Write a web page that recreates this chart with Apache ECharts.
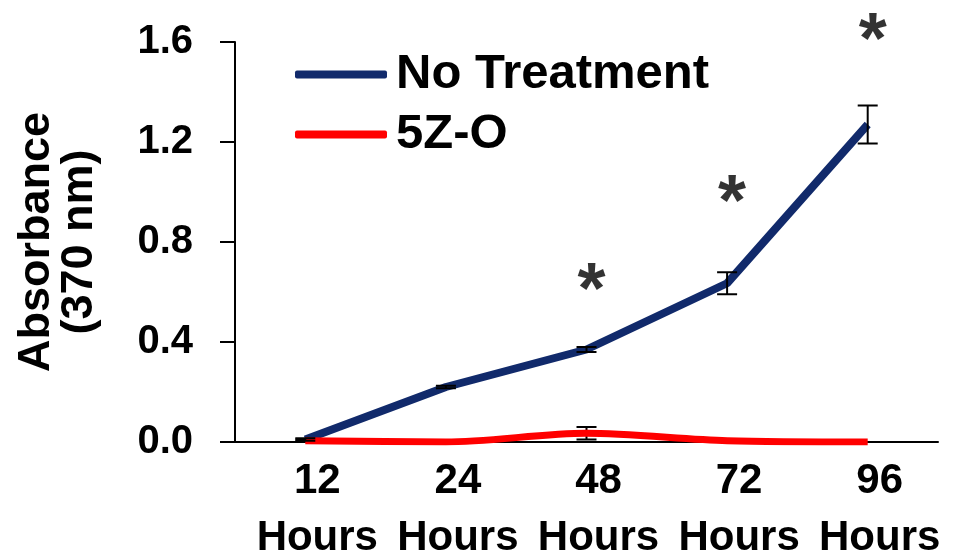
<!DOCTYPE html>
<html>
<head>
<meta charset="utf-8">
<script src="https://cdn.jsdelivr.net/npm/echarts@6/dist/echarts.min.js"></script>
<style>
html,body{margin:0;padding:0;background:#fff;}
#chart{width:969px;height:558px;}
</style>
</head>
<body>
<div id="chart"></div>
<script>
var categories = ['12\nHours', '24\nHours', '48\nHours', '72\nHours', '96\nHours'];
var noTreatment = [0.01, 0.22, 0.37, 0.635, 1.27];
var noTreatmentErr = [0.005, 0.005, 0.01, 0.044, 0.076];
var fiveZO = [0.005, 0.0, 0.035, 0.005, 0.0];
var fiveZOErr = [0.005, 0.0, 0.025, 0.0, 0.0];
var starLevels = [null, null, 0.66, 1.01, 1.66];
var yTicks = [0, 0.4, 0.8, 1.2, 1.6];

var FONT = '"Liberation Sans", Arial, sans-serif';
var chart = echarts.init(document.getElementById('chart'));

function errData(vals, errs) {
  return vals.map(function (v, i) { return [i, v - errs[i], v + errs[i], errs[i]]; });
}
function errRender(params, api) {
  var e = api.value(3);
  if (!e) return null;
  var lo = api.coord([api.value(0), api.value(1)]);
  var hi = api.coord([api.value(0), api.value(2)]);
  var hw = 10;
  var st = { stroke: '#000', lineWidth: 2 };
  return {
    type: 'group',
    children: [
      { type: 'line', shape: { x1: hi[0], y1: hi[1], x2: lo[0], y2: lo[1] }, style: st },
      { type: 'line', shape: { x1: hi[0] - hw, y1: hi[1], x2: hi[0] + hw, y2: hi[1] }, style: st },
      { type: 'line', shape: { x1: lo[0] - hw, y1: lo[1], x2: lo[0] + hw, y2: lo[1] }, style: st }
    ]
  };
}

chart.setOption({
  animation: false,
  backgroundColor: '#fff',
  grid: { left: 235, right: 31, top: 42, bottom: 116, containLabel: false, outerBoundsMode: 'none' },
  legend: {
    orient: 'vertical',
    left: 290,
    top: 45,
    itemWidth: 92,
    itemHeight: 8,
    itemGap: 11,
    icon: 'roundRect',
    textStyle: { fontFamily: FONT, fontWeight: 'bold', fontSize: 49, color: '#000', padding: [0, 0, 0, 4] },
    data: ['No Treatment', '5Z-O']
  },
  xAxis: {
    type: 'category',
    data: categories,
    boundaryGap: true,
    axisLine: { lineStyle: { color: '#000', width: 2 } },
    axisTick: { inside: true, length: 5, lineStyle: { color: '#000', width: 2 } },
    axisLabel: {
      interval: 0,
      fontFamily: FONT, fontWeight: 'bold', fontSize: 42, color: '#000',
      lineHeight: 57, margin: 11, padding: [0, 0, 0, 24]
    }
  },
  yAxis: {
    type: 'value',
    min: 0, max: 1.6, interval: 0.4,
    name: 'Absorbance\n(370 nm)',
    nameLocation: 'middle',
    nameGap: 134,
    nameRotate: 90,
    nameTextStyle: { fontFamily: FONT, fontWeight: 'bold', fontSize: 45, color: '#000', lineHeight: 43 },
    splitLine: { show: false },
    axisLine: { show: true, lineStyle: { color: '#000', width: 2 } },
    axisTick: { show: true, length: 15, lineStyle: { color: '#000', width: 2 } },
    axisLabel: {
      fontFamily: FONT, fontWeight: 'bold', fontSize: 40, color: '#000', margin: 42,
      formatter: function (v) { return v.toFixed(1); }
    }
  },
  series: [
    {
      name: 'No Treatment', type: 'line', data: noTreatment,
      color: '#112a6b', symbol: 'none',
      lineStyle: { width: 8, color: '#112a6b' }, z: 3
    },
    {
      name: '5Z-O', type: 'line', data: fiveZO, smooth: 0.3,
      color: '#ff0000', symbol: 'none',
      lineStyle: { width: 7, color: '#ff0000' }, z: 4
    },
    {
      type: 'custom', renderItem: errRender, data: errData(noTreatment, noTreatmentErr), z: 5,
      encode: { x: 0, y: [1, 2] }, silent: true
    },
    {
      type: 'custom', renderItem: errRender, data: errData(fiveZO, fiveZOErr), z: 2,
      encode: { x: 0, y: [1, 2] }, silent: true
    },
    {
      type: 'scatter', data: starLevels, symbolSize: 0, clip: false, silent: true,
      label: {
        show: true, position: 'inside', formatter: '*', offset: [5, 16],
        fontFamily: FONT, fontWeight: 'bold', fontSize: 72, color: '#000'
      }
    }
  ]
});
</script>
</body>
</html>
